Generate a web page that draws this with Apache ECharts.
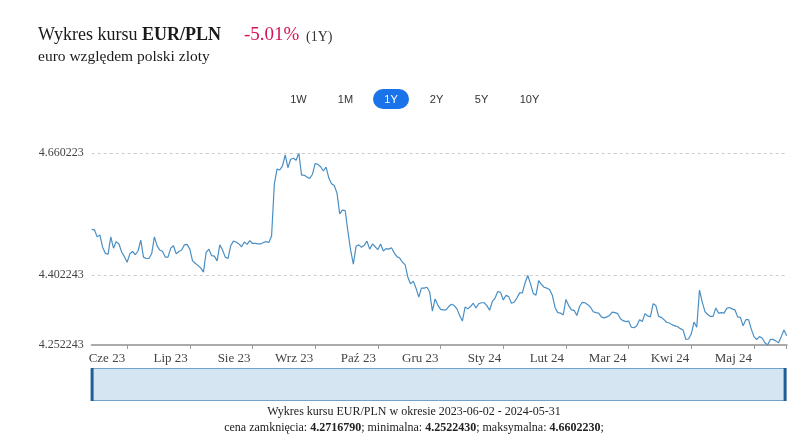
<!DOCTYPE html>
<html>
<head>
<meta charset="utf-8">
<script src="https://cdn.jsdelivr.net/npm/echarts@6/dist/echarts.min.js"></script>
<style>
html,body{margin:0;padding:0;background:#fff;}
#chart{width:797px;height:440px;}
</style>
</head>
<body>
<div id="chart"></div>
<script>
// ---- data ----
const startDate = '2023-06-02';
const endDate = '2024-05-31';
const holidays = ['2023-12-25','2023-12-26','2024-01-01','2024-03-29','2024-04-01'];

const rates = [
  4.498, 4.497, 4.482, 4.486, 4.460, 4.447, 4.445, 4.482, 4.458, 4.472,
  4.467, 4.450, 4.440, 4.428, 4.446, 4.451, 4.444, 4.452, 4.475, 4.439,
  4.436, 4.436, 4.446, 4.482, 4.463, 4.454, 4.451, 4.439, 4.439, 4.458,
  4.463, 4.446, 4.451, 4.454, 4.465, 4.466, 4.456, 4.431, 4.426, 4.421,
  4.416, 4.407, 4.449, 4.456, 4.442, 4.441, 4.431, 4.465, 4.454, 4.439,
  4.436, 4.463, 4.473, 4.471, 4.467, 4.461, 4.471, 4.466, 4.474, 4.468,
  4.468, 4.467, 4.467, 4.470, 4.472, 4.470, 4.484, 4.594, 4.626, 4.624,
  4.633, 4.656, 4.629, 4.647, 4.649, 4.645, 4.660223, 4.613, 4.613, 4.609,
  4.606, 4.615, 4.638, 4.636, 4.631, 4.622, 4.630, 4.607, 4.595, 4.591,
  4.575, 4.531, 4.539, 4.538, 4.494, 4.454, 4.424, 4.462, 4.465, 4.460,
  4.464, 4.473, 4.456, 4.467, 4.461, 4.455, 4.467, 4.452, 4.457, 4.456,
  4.459, 4.448, 4.440, 4.437, 4.428, 4.423, 4.396, 4.382, 4.388, 4.373,
  4.354, 4.373, 4.373, 4.375, 4.365, 4.324, 4.350, 4.337, 4.328, 4.327,
  4.327, 4.334, 4.339, 4.336, 4.329, 4.315, 4.303, 4.333, 4.329, 4.334,
  4.341, 4.331, 4.340, 4.342, 4.342, 4.336, 4.326, 4.345, 4.352, 4.366,
  4.364, 4.348, 4.358, 4.355, 4.341, 4.343, 4.352, 4.363, 4.363, 4.384,
  4.400, 4.382, 4.362, 4.358, 4.389, 4.381, 4.375, 4.373, 4.370, 4.358,
  4.332, 4.321, 4.320, 4.316, 4.349, 4.336, 4.327, 4.326, 4.315, 4.334,
  4.343, 4.342, 4.338, 4.333, 4.323, 4.321, 4.320, 4.312, 4.310, 4.312,
  4.315, 4.322, 4.321, 4.319, 4.308, 4.304, 4.302, 4.303, 4.290, 4.289,
  4.293, 4.306, 4.302, 4.319, 4.314, 4.312, 4.340, 4.336, 4.313, 4.311,
  4.306, 4.300, 4.299, 4.295, 4.293, 4.291, 4.287, 4.284, 4.264, 4.265,
  4.276, 4.301, 4.290, 4.369, 4.344, 4.323, 4.317, 4.313, 4.313, 4.331,
  4.320, 4.321, 4.320, 4.330, 4.332, 4.329, 4.327, 4.312, 4.311, 4.293,
  4.306, 4.306, 4.286, 4.270, 4.264, 4.270, 4.267, 4.257, 4.252243, 4.264,
  4.264, 4.261, 4.257, 4.270, 4.284, 4.271679
];

const xTickLabels = ['Cze 23','Lip 23','Sie 23','Wrz 23','Paź 23','Gru 23','Sty 24','Lut 24','Mar 24','Kwi 24','Maj 24'];
const firstTickIndex = 13;
const tickStep = 23;

const yMin = 4.252243;
const yMax = 4.660223;
const yTickValues = [4.252243, 4.402243, 4.660223];
const yGridValues = [4.402243, 4.660223];

const rangeButtons = ['1W','1M','1Y','2Y','5Y','10Y'];
const activeButton = '1Y';

// ---- categories (business days) ----
const dates = [];
(function(){
  let d = new Date(startDate + 'T00:00:00Z');
  const end = new Date(endDate + 'T00:00:00Z');
  while (d <= end) {
    const s = d.toISOString().slice(0,10);
    const wd = d.getUTCDay();
    if (wd !== 0 && wd !== 6 && holidays.indexOf(s) < 0) dates.push(s);
    d = new Date(d.getTime() + 86400000);
  }
})();
const lastIndex = dates.length - 1;

function isLabelTick(idx){ return idx >= firstTickIndex && (idx - firstTickIndex) % tickStep === 0 && (idx - firstTickIndex) / tickStep < xTickLabels.length; }

const SERIF = '"Liberation Serif", "Times New Roman", serif';
const SANS = '"Liberation Sans", Arial, Helvetica, sans-serif';

const chart = echarts.init(document.getElementById('chart'), null, {renderer:'canvas'});

const btnX = [298.5, 345.5, 391, 436.5, 481.5, 529.5];
const graphics = [
  { type:'text', x:38, y:35, style:{ text:'Wykres kursu {b|EUR/PLN}', font:'18px ' + SERIF, fill:'#1a1a1a', verticalAlign:'middle', rich:{ b:{ fontWeight:'bold', fontSize:18, fontFamily:SERIF, fill:'#1a1a1a' } } } },
  { type:'text', x:244, y:35, style:{ text:'-5.01%', font:'19px ' + SERIF, fill:'#d4145a', verticalAlign:'middle' } },
  { type:'text', x:306, y:37, style:{ text:'(1Y)', font:'14px ' + SERIF, fill:'#333', verticalAlign:'middle' } },
  { type:'text', x:38, y:57, style:{ text:'euro względem polski zloty', font:'15.5px ' + SERIF, fill:'#1a1a1a', verticalAlign:'middle' } },
  { type:'rect', shape:{ x:373, y:89, width:36, height:20, r:10 }, style:{ fill:'#1a73e8' } }
];
rangeButtons.forEach(function(b, i){
  graphics.push({ type:'text', x:btnX[i], y:99.5, style:{ text:b, font:'11px ' + SANS, fill: b === activeButton ? '#fff' : '#333', align:'center', verticalAlign:'middle' } });
});
graphics.push({ type:'text', x:414, y:412, style:{ text:'Wykres kursu EUR/PLN w okresie ' + startDate + ' - ' + endDate, font:'12px ' + SERIF, fill:'#222', align:'center', verticalAlign:'middle' } });
graphics.push({ type:'text', x:414, y:428, style:{
  text:'cena zamknięcia: {b|' + rates[rates.length-1].toFixed(7) + '}; minimalna: {b|' + yMin.toFixed(7) + '}; maksymalna: {b|' + yMax.toFixed(7) + '};',
  font:'12px ' + SERIF, fill:'#222', align:'center', verticalAlign:'middle',
  rich:{ b:{ fontWeight:'bold', fontSize:12, fontFamily:SERIF, fill:'#222' } } } });

chart.setOption({
  animation:false,
  backgroundColor:'#fff',
  grid:{ left:91.7, right:10.3, top:153, bottom:95, containLabel:false },
  xAxis:{
    type:'category',
    data:dates,
    boundaryGap:false,
    axisLine:{ show:true, lineStyle:{ color:'#aaa', width:2, type:[1,1] } },
    axisTick:{ show:true, length:4, lineStyle:{ color:'#999', width:1 }, interval:function(idx){ return isLabelTick(idx) || idx === lastIndex; } },
    axisLabel:{
      interval:function(idx){ return isLabelTick(idx); },
      formatter:function(v, idx){ return isLabelTick(idx) ? xTickLabels[(idx - firstTickIndex)/tickStep] : ''; },
      align:'right', padding:[0,2,0,0], margin:7, hideOverlap:false,
      fontFamily:SERIF, fontSize:13, color:'#444'
    },
    splitLine:{ show:false }
  },
  yAxis:{
    type:'value', min:yMin, max:yMax, scale:true,
    axisLine:{ show:false }, axisTick:{ show:false },
    axisLabel:{ customValues:yTickValues, formatter:function(v){ return v.toFixed(6); }, fontFamily:SERIF, fontSize:12, color:'#444', margin:8 },
    splitLine:{ show:false }
  },
  dataZoom:[{
    type:'slider', xAxisIndex:0, start:0, end:100,
    left:91, right:11, top:368, height:33,
    showDetail:false, showDataShadow:false, brushSelect:false,
    backgroundColor:'rgba(0,0,0,0)', fillerColor:'#d5e6f2', borderColor:'#6fa3cc', borderRadius:0,
    handleIcon:'path://M0,0 L3,0 L3,33 L0,33 Z', handleSize:'100%',
    handleStyle:{ color:'#1f5e96', borderColor:'#1f5e96', borderWidth:0 },
    moveHandleSize:0, moveHandleStyle:{ opacity:0 },
    dataBackground:{ lineStyle:{ opacity:0 }, areaStyle:{ opacity:0 } },
    textStyle:{ color:'transparent' }
  }],
  series:[{
    type:'line', data:rates, showSymbol:false, symbol:'none',
    lineStyle:{ color:'#4a8fc4', width:1.2 },
    markLine:{ silent:true, symbol:['none','none'], label:{ show:false },
      lineStyle:{ color:'#ccc', type:[3,3], width:1 },
      data: yGridValues.map(function(v){ return { yAxis:v }; }) }
  }],
  graphic:graphics
});
</script>
</body>
</html>
